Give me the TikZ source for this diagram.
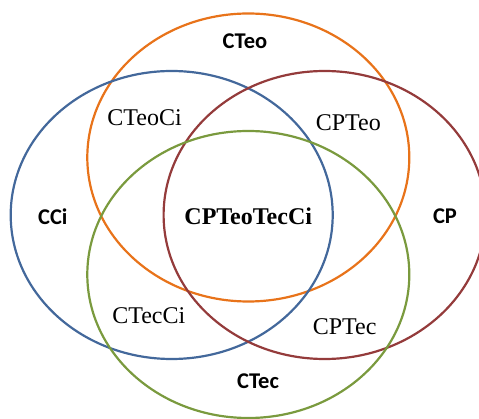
\documentclass[tikz,border=0pt]{standalone}
\usepackage{fontspec}
\setmainfont{Liberation Serif}
\newfontfamily\setlabelfont{Carlito}
\definecolor{teoorange}{HTML}{E8731A}
\definecolor{ciblue}{HTML}{43689B}
\definecolor{pred}{HTML}{943B3B}
\definecolor{tecgreen}{HTML}{7A9A3E}
\begin{document}
\begin{tikzpicture}[x=1pt,y=-1pt,
  setring/.style={line width=2.2pt},
  setname/.style={font=\setlabelfont\bfseries\fontsize{22.5}{26}\selectfont, inner sep=0pt},
  zonename/.style={font=\fontsize{24}{28}\selectfont, inner sep=0pt},
  corename/.style={font=\bfseries\fontsize{24}{28}\selectfont, inner sep=0pt}]
  \useasboundingbox (0,0) rectangle (479,419);
  \begin{scope}
    \clip (0,0) rectangle (479,419);
    % the four overlapping sets
    \draw[setring, teoorange] (248.3,157.5) ellipse [x radius=161, y radius=144];
    \draw[setring, ciblue]    (171.7,215)   ellipse [x radius=161, y radius=144];
    \draw[setring, pred]      (324.6,215)   ellipse [x radius=161, y radius=144];
    \draw[setring, tecgreen]  (248.3,274.5) ellipse [x radius=161, y radius=143.5];
  \end{scope}
  % set names
  \node[setname] (cteo) at (245,41.7)  {CTeo};
  \node[setname] (cci)  at (52.8,216.7) {CCi};
  \node[setname] (cp)   at (445,216.7)  {CP};
  \node[setname] (ctec) at (258,381.7)  {CTec};
  % intersections
  \node[zonename] (cteoci) at (144.6,117.3) {CTeoCi};
  \node[zonename] (cpteo)  at (348.3,122.7) {CPTeo};
  \node[zonename] (ctecci) at (148.8,315.7) {CTecCi};
  \node[zonename] (cptec)  at (344.7,326.7) {CPTec};
  \node[corename] (core)   at (248.2,216.7) {CPTeoTecCi};
\end{tikzpicture}
\end{document}
